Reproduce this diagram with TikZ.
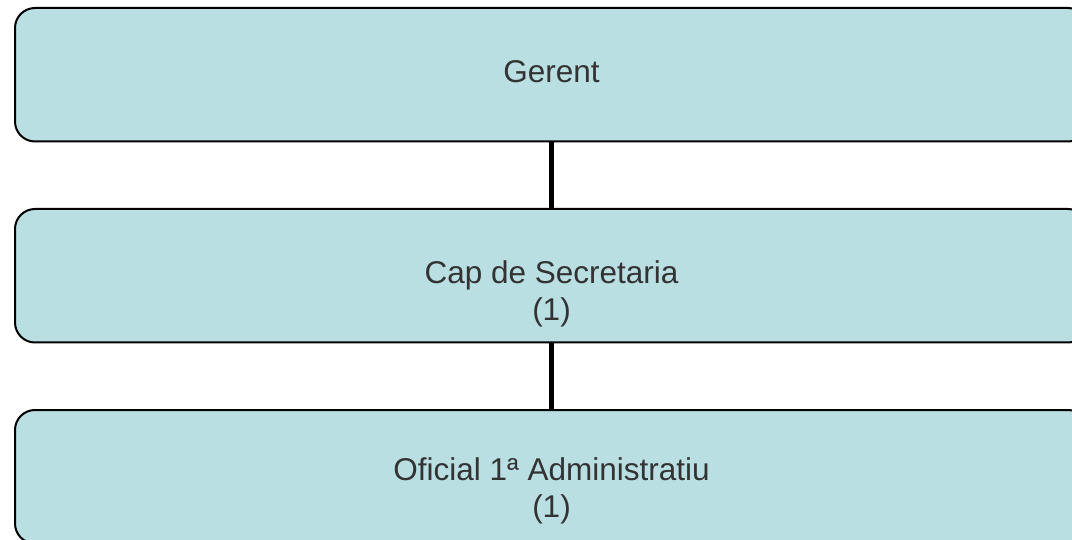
\documentclass[tikz,border=0pt]{standalone}
\usepackage{fontspec}
\setmainfont{Liberation Sans}
\definecolor{boxfill}{HTML}{B9DFE3}
\definecolor{txt}{HTML}{333333}
\begin{document}
\begin{tikzpicture}[x=1pt,y=-1pt,
  box/.style={draw=black, line width=2pt, fill=boxfill, rounded corners=20pt,
    minimum width=1073pt, minimum height=133.5pt, inner sep=0pt, outer sep=0pt},
  lbl/.style={font=\fontsize{31.5}{36.5}\selectfont, text=txt, align=center,
    inner sep=0pt, anchor=base},
  link/.style={line width=5pt, draw=black}]
\useasboundingbox (0,0) rectangle (1072,540);
\clip (0,0) rectangle (1072,540);
\node[box] (b1) at (551.5,74.75) {};
\node[box] (b2) at (551.5,275.75) {};
\node[box] (b3) at (551.5,476.75) {};
\draw[link] (b1.south) -- (b2.north);
\draw[link] (b2.south) -- (b3.north);
\node[lbl] (t1) at (551.5,83) {Gerent};
\node[lbl] (t2) at (551.5,320) {Cap de Secretaria\\(1)};
\node[lbl] (t3) at (551.5,517) {Oficial 1ª Administratiu\\(1)};
\end{tikzpicture}
\end{document}
